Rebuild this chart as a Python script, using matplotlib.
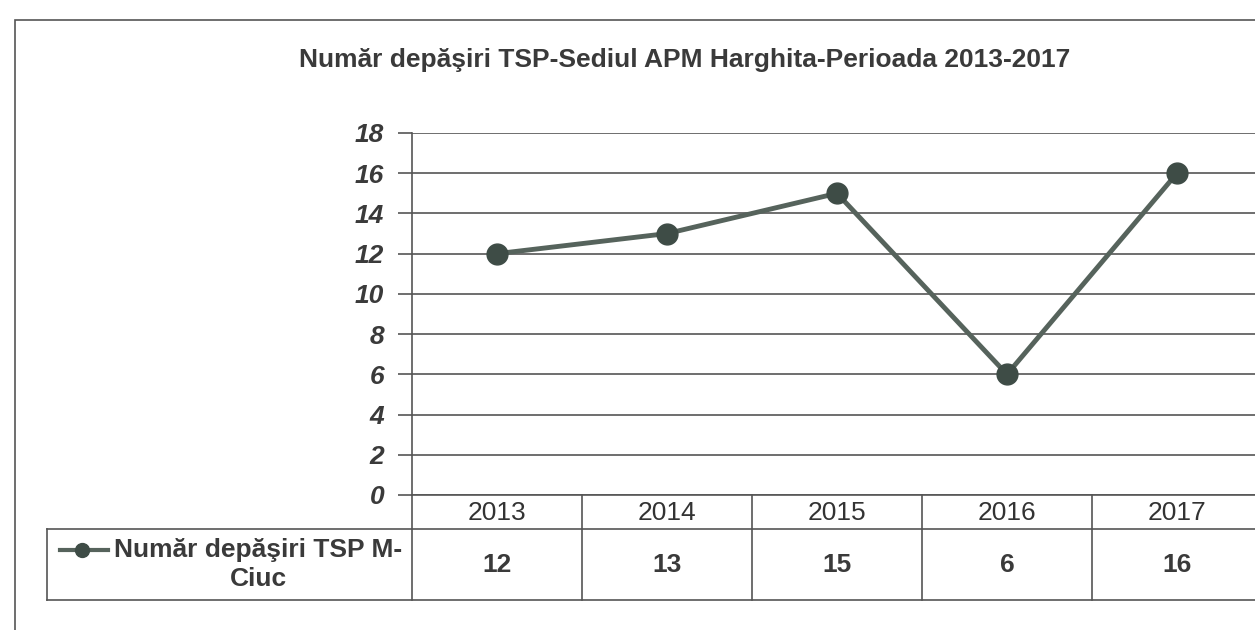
import matplotlib.pyplot as plt
from matplotlib.patches import Rectangle

plt.rcParams["font.family"] = ["Liberation Sans", "DejaVu Sans"]

# data
years = ["2013", "2014", "2015", "2016", "2017"]
depasiri = [12, 13, 15, 6, 16]
series_name = "Număr depăşiri TSP M-\nCiuc"
title = "Număr depăşiri TSP-Sediul APM Harghita-Perioada 2013-2017"

W, H = 1255, 630
fig = plt.figure(figsize=(W / 100, H / 100), dpi=100)

# outer frame of the chart
fig.patches.append(Rectangle((15 / W, -0.05), 1.2, (H - 20) / H + 0.05,
                             transform=fig.transFigure, fill=False,
                             edgecolor="#555555", linewidth=1.2))

fig.text(685 / W, 1 - 60 / H, title, ha="center", va="center",
         fontsize=19, fontweight="bold", color="#3a3a3a")

# plot area: left 412px, 170px per category, y 0 at 495px, 18 at 133px
ax = fig.add_axes([412 / W, 1 - 495 / H, 850 / W, 362 / H])
x = list(range(len(years)))
ax.plot(x, depasiri, color="#56635c", linewidth=3.5, marker="o",
        markersize=15, markerfacecolor="#3e4c46", markeredgecolor="#3e4c46",
        zorder=3)

ax.set_xlim(-0.5, len(years) - 0.5)
ax.set_ylim(0, 18)
ax.set_yticks(range(0, 19, 2))
ax.set_yticklabels([str(v) for v in range(0, 19, 2)], fontsize=19,
                   fontweight="bold", style="italic", color="#3a3a3a")
ax.set_xticks([])
ax.tick_params(axis="y", direction="out", length=10, width=1.2,
               color="#555555", pad=10)
ax.grid(axis="y", color="#555555", linewidth=1.2)
for side in ["top", "right", "bottom"]:
    ax.spines[side].set_visible(False)
ax.spines["left"].set_color("#555555")
ax.spines["left"].set_linewidth(1.2)

# data table below the plot (in data units: 1 unit = 170px wide, ~20.1px tall)
py = 18 / 362
row1 = -34 * py
row2 = -105 * py
leg_left = -0.5 - (412 - 47) / 170
kw = dict(color="#555555", linewidth=1.2, clip_on=False)
ax.plot([-0.5, len(years) - 0.5], [0, 0], **kw)
ax.plot([leg_left, len(years) - 0.5], [row1, row1], **kw)
ax.plot([leg_left, len(years) - 0.5], [row2, row2], **kw)
ax.plot([leg_left, leg_left], [row1, row2], **kw)
for i in range(len(years) + 1):
    ax.plot([i - 0.5, i - 0.5], [0, row2], **kw)

for i, (yr, v) in enumerate(zip(years, depasiri)):
    ax.text(i, row1 / 2 - 0.05, yr, ha="center", va="center", fontsize=19,
            color="#333333", clip_on=False)
    ax.text(i, (row1 + row2) / 2, str(v), ha="center", va="center",
            fontsize=19, fontweight="bold", color="#3a3a3a", clip_on=False)

# legend key inside the table cell
ky = -550 / 20.11 + 495 / 20.11
kx0 = -0.5 - (412 - 60) / 170
ax.plot([kx0, kx0 + 48 / 170], [ky, ky], color="#56635c", linewidth=3,
        clip_on=False)
ax.plot([kx0 + 22 / 170], [ky], marker="o", markersize=10, color="#3e4c46",
        clip_on=False)
ax.text(-0.5 - (412 - 258) / 170, (row1 + row2) / 2, series_name,
        ha="center", va="center", fontsize=19, fontweight="bold",
        color="#3a3a3a", linespacing=1.3, clip_on=False)

fig.savefig("out.png", dpi=100)
